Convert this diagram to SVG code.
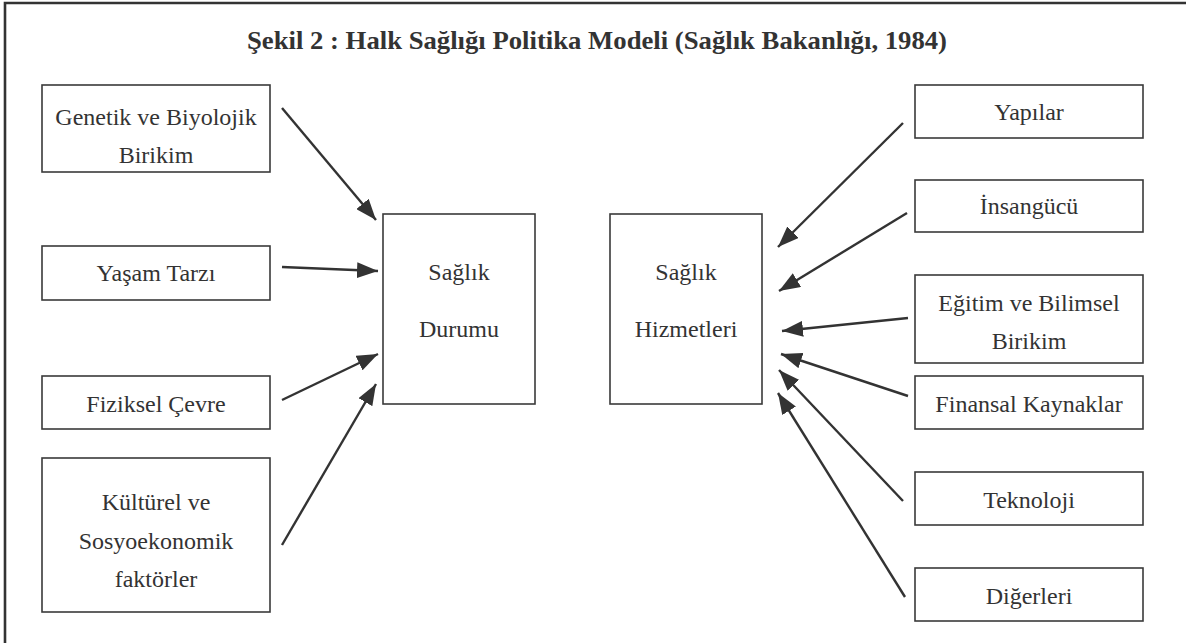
<svg xmlns="http://www.w3.org/2000/svg" width="1186" height="643" viewBox="0 0 1186 643">
<style>
.box{fill:#fff;stroke:#3a3a3a;stroke-width:1.6}
.t{font-family:"Liberation Serif","Times New Roman",serif;font-size:24px;fill:#333;text-anchor:middle}
.title{font-family:"Liberation Serif","Times New Roman",serif;font-size:25px;font-weight:bold;fill:#333;text-anchor:middle}
.edge{stroke:#333;stroke-width:2.4;fill:none;marker-end:url(#ah)}
.frame{stroke:#333;stroke-width:2.6;fill:none}
</style>
<defs>
<marker id="ah" viewBox="0 0 10 10" refX="10" refY="5" markerUnits="userSpaceOnUse" markerWidth="21" markerHeight="16" orient="auto" preserveAspectRatio="none">
<path d="M0,0 L10,5 L0,10 z" fill="#333"/>
</marker>
</defs>
<rect width="1186" height="643" fill="#fff"/>
<path class="frame" d="M5,650 L5,3 L1186,3"/>
<text class="title" x="597" y="49" textLength="700" lengthAdjust="spacingAndGlyphs">Şekil 2 : Halk Sağlığı Politika Modeli (Sağlık Bakanlığı, 1984)</text>

<g id="genetik"><rect class="box" x="42" y="85" width="228" height="87"/><text class="t" x="156" y="125">Genetik ve Biyolojik</text><text class="t" x="156" y="163">Birikim</text></g>
<g id="yasam"><rect class="box" x="42" y="246" width="228" height="54"/><text class="t" x="156" y="281">Yaşam Tarzı</text></g>
<g id="fiziksel"><rect class="box" x="42" y="376" width="228" height="53"/><text class="t" x="156" y="412">Fiziksel Çevre</text></g>
<g id="kulturel"><rect class="box" x="42" y="458" width="228" height="154"/><text class="t" x="156" y="510">Kültürel ve</text><text class="t" x="156" y="549">Sosyoekonomik</text><text class="t" x="156" y="587">faktörler</text></g>

<g id="durum"><rect class="box" x="383" y="214" width="152" height="190"/><text class="t" x="459" y="280">Sağlık</text><text class="t" x="459" y="337">Durumu</text></g>
<g id="hizmet"><rect class="box" x="610" y="214" width="152" height="190"/><text class="t" x="686" y="280">Sağlık</text><text class="t" x="686" y="337">Hizmetleri</text></g>

<g id="yapilar"><rect class="box" x="915" y="85" width="228" height="53"/><text class="t" x="1029" y="120">Yapılar</text></g>
<g id="insangucu"><rect class="box" x="915" y="180" width="228" height="52"/><text class="t" x="1029" y="214">İnsangücü</text></g>
<g id="egitim"><rect class="box" x="915" y="275" width="228" height="88"/><text class="t" x="1029" y="311">Eğitim ve Bilimsel</text><text class="t" x="1029" y="349">Birikim</text></g>
<g id="finansal"><rect class="box" x="915" y="376" width="228" height="53"/><text class="t" x="1029" y="412">Finansal Kaynaklar</text></g>
<g id="teknoloji"><rect class="box" x="915" y="472" width="228" height="53"/><text class="t" x="1029" y="508">Teknoloji</text></g>
<g id="digerleri"><rect class="box" x="915" y="568" width="228" height="53"/><text class="t" x="1029" y="604">Diğerleri</text></g>

<g id="connectors">
<line class="edge" x1="282" y1="108" x2="376" y2="220"/>
<line class="edge" x1="282" y1="267" x2="378" y2="271"/>
<line class="edge" x1="282" y1="400" x2="378" y2="354"/>
<line class="edge" x1="282" y1="545" x2="376" y2="384"/>
<line class="edge" x1="903" y1="123" x2="778" y2="247"/>
<line class="edge" x1="907" y1="213" x2="779" y2="291"/>
<line class="edge" x1="908" y1="318" x2="782" y2="331"/>
<line class="edge" x1="908" y1="396" x2="781" y2="354"/>
<line class="edge" x1="903" y1="501" x2="779" y2="370"/>
<line class="edge" x1="905" y1="597" x2="778" y2="393"/>
</g>
</svg>
